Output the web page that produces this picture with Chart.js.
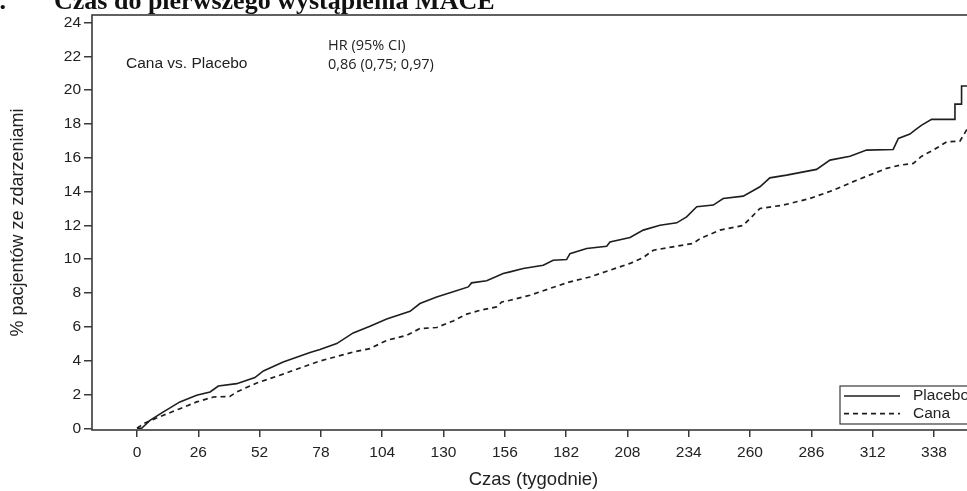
<!DOCTYPE html>
<html>
<head>
<meta charset="utf-8">
<script src="https://cdn.jsdelivr.net/npm/chart.js@4.4.1/dist/chart.umd.min.js"></script>
<style>
    html, body { margin: 0; padding: 0; background: #fff; overflow: hidden; }
    #wrap { position: relative; width: 967px; height: 491px; overflow: hidden; }
    canvas { position: absolute; left: 0; top: 0; }
</style>
</head>
<body>
<div id="wrap"><canvas id="kmChart" width="990" height="491"></canvas></div>
<script>
// Cumulative % of patients with MACE
const placeboWeeks = [0, 2, 5.5, 11.2, 18.2, 25.3, 31, 34.5, 42.3, 50, 53.6, 62, 73.4, 77.6, 84.7, 91.7, 98.8,
    105.9, 115.8, 120, 127.1, 134.1, 140.5, 141.9, 148.3, 155.3, 158.2, 163.8, 172.3, 176.5, 182.2, 183.6,
    190.7, 199.2, 200.6, 209.1, 214.7, 221.8, 228.9, 233.1, 237.4, 244.4, 248.6, 257.1, 264.2, 268.4, 275.5,
    288.2, 293.9, 302.4, 309.4, 320.7, 322.9, 327.8, 329.9, 332.8, 337, 346.9, 346.9, 349.7, 349.7, 356];
const placeboPct = [0, 0, 0.47, 0.97, 1.56, 1.95, 2.15, 2.5, 2.64, 3.0, 3.39, 3.92, 4.48, 4.66, 5.01, 5.64, 6.04,
    6.47, 6.92, 7.38, 7.77, 8.07, 8.36, 8.6, 8.72, 9.15, 9.25, 9.45, 9.64, 9.94, 9.98, 10.33,
    10.63, 10.77, 11.02, 11.28, 11.72, 12.01, 12.15, 12.5, 13.1, 13.2, 13.59, 13.73, 14.28, 14.81, 14.97,
    15.31, 15.86, 16.09, 16.45, 16.49, 17.14, 17.4, 17.63, 17.93, 18.27, 18.27, 19.17, 19.17, 20.24, 20.24];

const canaWeeks = [0, 1.3, 2.7, 11.2, 18.2, 25.3, 32.4, 39.4, 42.3, 50.8, 60.6, 70.5, 77.6, 91.7, 98.8, 105.9,
    114.4, 120, 127.1, 134.1, 139.8, 145.5, 152.5, 154.7, 158.2, 166.7, 175.1, 183.6, 192.1, 200.6, 209.1,
    214.7, 219, 228.9, 235.9, 238.8, 247.2, 257.1, 264.2, 274.1, 285.4, 295.3, 305.2, 317.9, 323.6, 329.2,
    332.8, 337.7, 343.4, 349, 351.8, 356];
const canaPct = [0, 0.12, 0.28, 0.77, 1.16, 1.56, 1.85, 1.89, 2.15, 2.68, 3.14, 3.63, 3.98, 4.51, 4.71, 5.2,
    5.5, 5.9, 5.96, 6.35, 6.75, 6.98, 7.18, 7.47, 7.57, 7.87, 8.27, 8.66, 8.95, 9.35, 9.75,
    10.1, 10.53, 10.77, 10.93, 11.22, 11.72, 12.0, 13.0, 13.2, 13.59, 14.08, 14.67, 15.37, 15.56, 15.66,
    16.09, 16.45, 16.94, 16.98, 17.63, 17.63];

const xTicks = [0, 26, 52, 78, 104, 130, 156, 182, 208, 234, 260, 286, 312, 338];
const yTicks = [0, 2, 4, 6, 8, 10, 12, 14, 16, 18, 20, 22, 24];

const toPoints = (xs, ys) => xs.map((x, i) => ({ x: x, y: ys[i] }));

const inkColor = '#1e1e1e';
const axisColor = '#3a3a3a';
const sansFont = '"Liberation Sans", Arial, sans-serif';

// Frame round the plot area
const frameBox = {
    id: 'frameBox',
    beforeDatasetsDraw(chart) {
        const { ctx, chartArea } = chart;
        ctx.save();
        ctx.strokeStyle = axisColor;
        ctx.lineWidth = 1.6;
        ctx.strokeRect(chartArea.left, chartArea.top, chartArea.right - chartArea.left, chartArea.bottom - chartArea.top);
        ctx.restore();
    }
};

// Cut-off heading, HR note and the boxed legend
const notes = {
    id: 'notes',
    afterDraw(chart) {
        const { ctx, chartArea } = chart;
        ctx.save();
        ctx.fillStyle = '#111';
        ctx.textBaseline = 'alphabetic';
        ctx.font = 'bold 26px "Liberation Serif", serif';
        ctx.textAlign = 'right';
        ctx.fillText('1.', 6, 9);
        ctx.textAlign = 'left';
        ctx.fillText('Czas do pierwszego wystąpienia MACE', 54, 9);

        ctx.fillStyle = '#222';
        ctx.font = '15.5px ' + sansFont;
        ctx.fillText('Cana vs. Placebo', chartArea.left + 34, chartArea.top + 53);
        ctx.font = '14.5px "Open Sans", sans-serif';
        ctx.fillText('HR (95% CI)', chartArea.left + 236, chartArea.top + 35);
        ctx.fillText('0,86 (0,75; 0,97)', chartArea.left + 236, chartArea.top + 53.5);

        // legend
        const x0 = chartArea.right - 135, y0 = chartArea.bottom - 44, w = 131, h = 38;
        ctx.fillStyle = '#fff';
        ctx.fillRect(x0, y0, w, h);
        ctx.strokeStyle = axisColor;
        ctx.lineWidth = 1.2;
        ctx.strokeRect(x0, y0, w, h);
        chart.data.datasets.forEach((ds, i) => {
            const ly = y0 + 10 + i * 17.6;
            ctx.setLineDash(ds.borderDash || []);
            ctx.strokeStyle = ds.borderColor;
            ctx.lineWidth = ds.borderWidth;
            ctx.beginPath();
            ctx.moveTo(x0 + 4, ly);
            ctx.lineTo(x0 + 60, ly);
            ctx.stroke();
            ctx.setLineDash([]);
            ctx.fillStyle = '#222';
            ctx.font = '15.5px ' + sansFont;
            ctx.textBaseline = 'middle';
            ctx.fillText(ds.label, x0 + 73, ly);
        });
        ctx.restore();
    }
};

const ctx = document.getElementById('kmChart').getContext('2d');
new Chart(ctx, {
    type: 'line',
    data: {
        datasets: [
            {
                label: 'Placebo',
                data: toPoints(placeboWeeks, placeboPct),
                borderColor: inkColor,
                borderWidth: 1.6,
                pointRadius: 0,
                fill: false,
                tension: 0
            },
            {
                label: 'Cana',
                data: toPoints(canaWeeks, canaPct),
                borderColor: inkColor,
                borderWidth: 1.7,
                borderDash: [5, 4],
                pointRadius: 0,
                fill: false,
                tension: 0
            }
        ]
    },
    options: {
        responsive: false,
        animation: false,
        devicePixelRatio: 1,
        layout: { padding: { top: 15, right: 15, bottom: 0, left: 0 } },
        plugins: {
            legend: { display: false },
            tooltip: { enabled: false }
        },
        scales: {
            x: {
                type: 'linear',
                min: -19.08,
                max: 355.4,
                afterBuildTicks: axis => { axis.ticks = xTicks.map(v => ({ value: v })); },
                afterFit: scale => { scale.height = 61; },
                grid: { drawOnChartArea: false, drawTicks: true, tickLength: 7, color: axisColor, lineWidth: 1.5 },
                border: { display: false },
                ticks: { color: '#222', font: { family: sansFont, size: 15.5 }, padding: 6, maxRotation: 0, autoSkip: false },
                title: { display: true, text: 'Czas (tygodnie)', color: '#222', font: { family: sansFont, size: 18.5 }, padding: { top: 0, bottom: 0 } }
            },
            y: {
                min: -0.1,
                max: 24.44,
                afterBuildTicks: axis => { axis.ticks = yTicks.map(v => ({ value: v })); },
                afterFit: scale => { scale.width = 92; },
                grid: { drawOnChartArea: false, drawTicks: true, tickLength: 8, color: axisColor, lineWidth: 1.5 },
                border: { display: false },
                ticks: { color: '#222', font: { family: sansFont, size: 15.5 }, padding: 3, autoSkip: false },
                title: { display: true, text: '% pacjentów ze zdarzeniami', color: '#222', font: { family: sansFont, size: 18 }, padding: { top: 7, bottom: 0 } }
            }
        }
    },
    plugins: [frameBox, notes]
});
</script>
</body>
</html>
